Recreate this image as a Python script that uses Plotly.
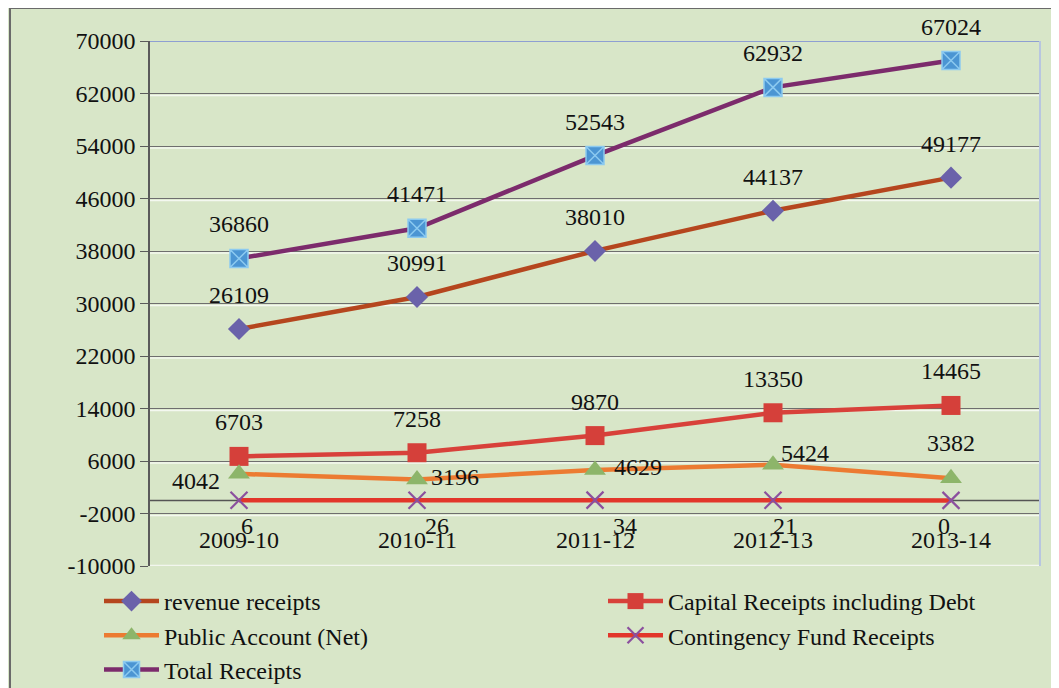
import plotly.graph_objects as go

categories = ["2009-10", "2010-11", "2011-12", "2012-13", "2013-14"]
revenue_receipts = [26109, 30991, 38010, 44137, 49177]
capital_receipts = [6703, 7258, 9870, 13350, 14465]
public_account = [4042, 3196, 4629, 5424, 3382]
contingency_fund = [6, 26, 34, 21, 0]
total_receipts = [36860, 41471, 52543, 62932, 67024]
y_ticks = list(range(-10000, 70001, 8000))

FONT = "Liberation Serif"
BG = "#d8e6c8"
xi = list(range(len(categories)))

# page body has an 8px margin: figure is placed at (8, 8)
W, H = 1051, 680
PL, PR, PT, PB = 150, 1040, 41, 566  # plot area in page pixels

series = [
    dict(name="revenue receipts", y=revenue_receipts, line="#b5461e", legend="legend",
         marker=dict(symbol="diamond", size=17, color="#6a62aa", line=dict(width=0))),
    dict(name="Capital Receipts including Debt", y=capital_receipts, line="#d8413a", legend="legend2",
         marker=dict(symbol="square", size=19, color="#d5403a", line=dict(width=0))),
    dict(name="Public Account (Net)", y=public_account, line="#ec7b32", legend="legend",
         marker=dict(symbol="triangle-up", size=19, color="#8db56a", line=dict(width=0))),
    dict(name="Contingency Fund Receipts", y=contingency_fund, line="#e2362a", legend="legend2",
         marker=dict(symbol="x-thin", size=17, color="#8b4f9e", line=dict(width=2.2, color="#8b4f9e"))),
    dict(name="Total Receipts", y=total_receipts, line="#7c2b6c", legend="legend",
         marker=dict(symbol="square-x", size=18, color="#4b95d3", line=dict(width=1.5, color="#8ccaf0"))),
]

fig = go.Figure()
for s in series:
    fig.add_trace(go.Scatter(
        x=xi, y=s["y"], name=s["name"], mode="lines+markers", legend=s["legend"],
        line=dict(color=s["line"], width=4.5), marker=s["marker"],
        cliponaxis=False,
    ))

offsets = {
    "revenue receipts": [(0, 34)] * 5,
    "Capital Receipts including Debt": [(0, 34)] * 5,
    "Public Account (Net)": [(-43, -7), (38, 2), (43, 3), (32, 12), (0, 35)],
    "Contingency Fund Receipts": [(8, -26), (20, -26), (30, -26), (12, -26), (-7, -26)],
    "Total Receipts": [(0, 34)] * 5,
}
annotations = []
for s in series:
    for i, v in enumerate(s["y"]):
        dx, dy = offsets[s["name"]][i]
        annotations.append(dict(
            x=xi[i], y=v, xref="x", yref="y", text=str(v), showarrow=False,
            xshift=dx, yshift=dy, font=dict(family=FONT, size=24, color="#111"),
        ))
for i, c in enumerate(categories):
    annotations.append(dict(
        x=xi[i], y=0, xref="x", yref="y", text=c, showarrow=False,
        yshift=-40, font=dict(family=FONT, size=24, color="#111"),
    ))

def px_x(p):
    return (p - PL) / (PR - PL)

def px_y(p):
    return (PB - p) / (PB - PT)

shapes = []
for t in y_ticks[1:-1]:
    shapes.append(dict(type="line", xref="paper", x0=0, x1=1, yref="y",
                       ysizemode="pixel", yanchor=t, y0=-2, y1=-2,
                       line=dict(color="#f4f8f0", width=1.5), layer="below"))
shapes.append(dict(type="line", xref="paper", x0=0, x1=1, yref="y", y0=-10000, y1=-10000,
                   line=dict(color="#f2f6ee", width=2.5), layer="above"))
shapes.append(dict(type="line", xref="paper", x0=0, x1=1, yref="y", y0=70000, y1=70000,
                   line=dict(color="#8e9fd2", width=2), layer="above"))
shapes.append(dict(type="line", xref="paper", x0=1, x1=1, yref="paper", y0=0, y1=1,
                   line=dict(color="#b8c6e0", width=2), layer="above"))
shapes.append(dict(type="line", xref="paper", x0=0, x1=1, yref="y", y0=0, y1=0,
                   line=dict(color="#555555", width=1.5), layer="below"))
shapes.append(dict(type="rect", xref="paper", yref="paper",
                   x0=px_x(10), x1=px_x(1080), y0=px_y(700), y1=px_y(8),
                   line=dict(color="#6a6a6a", width=2), fillcolor="rgba(0,0,0,0)", layer="below"))

legend_common = dict(
    orientation="v", xref="container", yref="container",
    xanchor="left", yanchor="top", itemwidth=55,
    font=dict(family=FONT, size=24, color="#111"),
    bgcolor="rgba(0,0,0,0)", tracegroupgap=0,
)

fig.update_layout(
    width=W, height=H,
    margin=dict(l=PL - 8, r=W - (PR - 8), t=PT - 8, b=H - (PB - 8), autoexpand=False),
    paper_bgcolor=BG, plot_bgcolor=BG,
    font=dict(family=FONT, size=24, color="#111"),
    showlegend=True,
    legend=dict(x=(99 - 8) / W, y=1 - (579 - 8) / H, **legend_common),
    legend2=dict(x=(603 - 8) / W, y=1 - (579 - 8) / H, **legend_common),
    xaxis=dict(range=[-0.5, 4.5], showticklabels=False, showgrid=False,
               zeroline=False, showline=False, ticks=""),
    yaxis=dict(range=[-10000, 70000], tickvals=y_ticks, ticktext=[str(v) for v in y_ticks],
               showgrid=True, gridcolor="#6e6e6e", gridwidth=1.3, zeroline=False,
               showline=True, linecolor="#5a5a5a", linewidth=1.5,
               ticks="outside", ticklen=8, tickcolor="#5a5a5a",
               tickfont=dict(family=FONT, size=24, color="#111")),
    annotations=annotations, shapes=shapes,
)

fig.write_html("out.html")
